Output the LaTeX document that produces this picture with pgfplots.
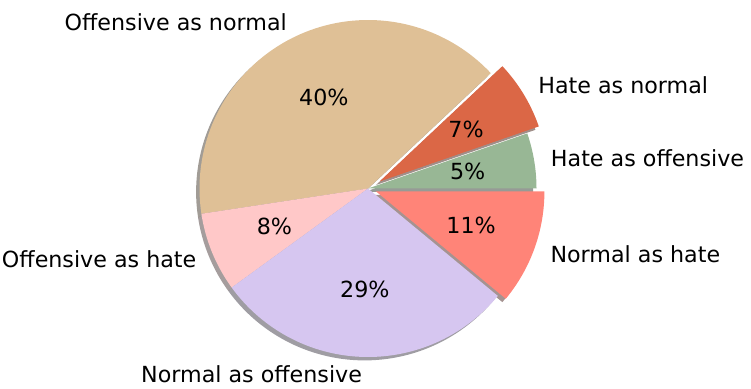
\documentclass[border=0pt]{standalone}
\usepackage{pgfplots}
\usepackage{pgfplotstable}
\pgfplotsset{compat=1.18}
\usepackage{fontspec}
\setmainfont{DejaVu Sans}

\definecolor{cHO}{RGB}{152,183,149}
\definecolor{cHN}{RGB}{219,103,70}
\definecolor{cON}{RGB}{223,192,150}
\definecolor{cOH}{RGB}{255,200,200}
\definecolor{cNO}{RGB}{214,198,240}
\definecolor{cNH}{RGB}{255,132,120}

\pgfplotstableread{
id pct explode
0 5.3 0
1 6.7 0.08
2 40.4 0
3 7.6 0
4 29.0 0
5 11.0 0.05
}\piedata

\newcommand\R{168.5}
\newcommand\CX{368}
\newcommand\CY{199.5}
\newcommand\lblfont{\fontsize{22.2}{26}\selectfont}
\gdef\cum{0}
\newcommand\defslice[1]{%
 \pgfplotstablegetelem{#1}{pct}\of\piedata \let\p\pgfplotsretval
 \pgfplotstablegetelem{#1}{explode}\of\piedata \let\e\pgfplotsretval
 \pgfmathsetmacro\sa{3.6*\cum}%
 \pgfmathsetmacro\sb{3.6*(\cum+\p)}%
 \pgfmathsetmacro\sm{(\sa+\sb)/2}%
 \pgfmathsetmacro\cx{\CX+\e*\R*cos(\sm)}%
 \pgfmathsetmacro\cy{\CY+\e*\R*sin(\sm)}%
 \pgfmathsetmacro\px{\cx+0.6*\R*cos(\sm)}%
 \pgfmathsetmacro\py{\cy+0.6*\R*sin(\sm)}%
 \pgfmathsetmacro\lx{\cx+1.1*\R*cos(\sm)}%
 \pgfmathsetmacro\ly{\cy+1.1*\R*sin(\sm)}%
 \pgfmathsetmacro\cc{cos(\sm)}%
 \pgfmathtruncatemacro\pr{round(\p)}%
 \pgfmathsetmacro\newcum{\cum+\p}\xdef\cum{\newcum}%
 \expandafter\xdef\csname sa#1\endcsname{\sa}%
 \expandafter\xdef\csname sb#1\endcsname{\sb}%
 \expandafter\xdef\csname cx#1\endcsname{\cx}%
 \expandafter\xdef\csname cy#1\endcsname{\cy}%
 \expandafter\xdef\csname px#1\endcsname{\px}%
 \expandafter\xdef\csname py#1\endcsname{\py}%
 \expandafter\xdef\csname lx#1\endcsname{\lx}%
 \expandafter\xdef\csname ly#1\endcsname{\ly}%
 \expandafter\xdef\csname pr#1\endcsname{\pr}%
 \ifdim\cc pt>0pt \expandafter\xdef\csname an#1\endcsname{west}%
 \else \expandafter\xdef\csname an#1\endcsname{east}\fi
}
\defslice{0}\defslice{1}\defslice{2}\defslice{3}\defslice{4}\defslice{5}

\newcommand\shadowslice[2]{%
 \edef\doit{\noexpand\addplot[draw=none,fill=#2!30!black,fill opacity=0.5,domain=\csname sa#1\endcsname:\csname sb#1\endcsname,samples=90,variable=\noexpand\t]
 ({\csname cx#1\endcsname-3.4+\R*cos(\noexpand\t)},{\csname cy#1\endcsname-3.4+\R*sin(\noexpand\t)}) -- (axis cs:\csname cx#1\endcsname-3.4,\csname cy#1\endcsname-3.4) -- cycle;}\doit}
\newcommand\faceslice[3]{%
 \edef\doit{\noexpand\addplot[draw=none,fill=#2,domain=\csname sa#1\endcsname:\csname sb#1\endcsname,samples=90,variable=\noexpand\t]
 ({\csname cx#1\endcsname+\R*cos(\noexpand\t)},{\csname cy#1\endcsname+\R*sin(\noexpand\t)}) -- (axis cs:\csname cx#1\endcsname,\csname cy#1\endcsname) -- cycle;}\doit
 \edef\doit{\noexpand\node[anchor=center,inner sep=0pt,font=\noexpand\lblfont] at (axis cs:\csname px#1\endcsname,\csname py#1\endcsname) {\csname pr#1\endcsname\noexpand\%};}\doit
 \edef\doit{\noexpand\node[anchor=\csname an#1\endcsname,inner sep=0pt,font=\noexpand\lblfont] at (axis cs:\csname lx#1\endcsname,\csname ly#1\endcsname) {#3};}\doit}

\begin{document}
\begin{tikzpicture}
\begin{axis}[
  width=751pt, height=388pt, scale only axis,
  xmin=0, xmax=751, ymin=0, ymax=388,
  hide axis, clip=false,
]
\shadowslice{0}{cHO}
\shadowslice{1}{cHN}
\shadowslice{2}{cON}
\shadowslice{3}{cOH}
\shadowslice{4}{cNO}
\shadowslice{5}{cNH}
\faceslice{0}{cHO}{Hate as offensive}
\faceslice{1}{cHN}{Hate as normal}
\faceslice{2}{cON}{Offensive as normal}
\faceslice{3}{cOH}{Offensive as hate}
\faceslice{4}{cNO}{Normal as offensive}
\faceslice{5}{cNH}{Normal as hate}
\end{axis}
\pgfresetboundingbox
\path[use as bounding box] (current axis.south west) rectangle (current axis.north east);
\end{tikzpicture}
\end{document}
